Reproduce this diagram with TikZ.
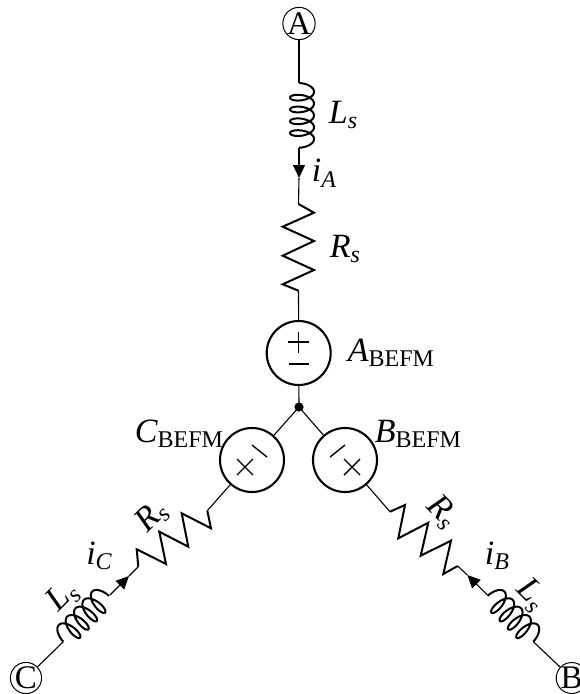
\documentclass[tikz,border=0pt]{standalone}
\usepackage{fontspec}
\setmainfont{Liberation Serif}
\usetikzlibrary{arrows.meta}
\tikzset{
  x=1pt,y=-1pt,
  wire/.style={line width=1.1pt},
  comp/.style={line width=2pt,line join=miter},
  emf/.style={circle,draw,line width=2.1pt,minimum size=64pt,inner sep=0pt},
  term/.style={circle,draw,line width=1pt,minimum size=30pt,inner sep=0pt,font=\fontsize{33}{33}\selectfont},
  flow/.style={wire,-{Triangle[length=13pt,width=12pt]}},
  sign/.style={line width=1.4pt},
  lab/.style={inner sep=0pt,font=\fontsize{34}{34}\selectfont\itshape}
}
\newcommand{\subup}[2]{#1\raisebox{-5.5pt}{\fontsize{24}{24}\selectfont\upshape #2}}
\newcommand{\subit}[2]{#1\raisebox{-5.5pt}{\fontsize{24}{24}\selectfont\itshape #2}}
% \coilpath{start}{rotation}{side}
\newcommand{\coilpath}[3]{%
  \begin{scope}[shift={(#1)},rotate=#2]
    \draw[comp,line join=round,domain=-1.82:26.95,samples=300,variable=\p]
      plot ({(#3)*(3+12*cos(\p r))},{1.88*(\p+1.82)+5.5*(sin(\p r)+0.97)});
  \end{scope}}
\begin{document}
\begin{tikzpicture}
\useasboundingbox (0,0) rectangle (580,694);
% terminals and sources
\node[term] (A) at (299,23.5) {A};
\node[term] (B) at (571.7,678) {B};
\node[term] (C) at (26,678) {C};
\node[emf] (Ae) at (298.7,353) {};
\node[emf] (Be) at (345,460) {};
\node[emf] (Ce) at (252,460) {};
\fill (299,407) circle (4.6);
\coordinate (N) at (299,407);
% leg A
\coordinate (Lat) at (299,83);
\coordinate (Lab) at (299,148);
\coordinate (Tia) at (299,178);
\coordinate (Rat) at (298.5,204);
\coordinate (Rab) at (298.5,290.7);
\draw[wire] (A) -- (Lat);
\coilpath{Lat}{0}{1}
\draw[flow] (Lab) -- (Tia);
\draw[wire] (Tia) -- (Rat);
\draw[comp] (Rat) -- (314,212.7) -- (282.7,226.7) -- (314,241) -- (282.7,255.7) -- (314,270) -- (282.7,284.3) -- (Rab);
\draw[wire] (Rab) -- (Ae);
\draw[wire] (Ae) -- (N);
\draw[sign] (288,342) -- (309,342) (298.7,331.5) -- (298.7,352.5);
\draw[sign] (288.5,364) -- (309,364);
% leg C
\coordinate (Lct) at (63.3,641.7);
\coordinate (Lcb) at (110,595);
\coordinate (Tic) at (129,576);
\coordinate (Rct) at (138.3,566.7);
\coordinate (Rcb) at (207.3,510.7);
\draw[wire] (C) -- (Lct);
\coilpath{Lct}{135}{1}
\draw[flow] (Lcb) -- (Tic);
\draw[wire] (Tic) -- (Rct);
\draw[comp] (Rct) -- (136.7,549.3) -- (166,564) -- (159.3,531.7) -- (188.3,546.7) -- (181.7,513.3) -- (211,528.3) -- (Rcb);
\draw[wire] (Rcb) -- (Ce);
\draw[wire] (Ce) -- (N);
\draw[sign] (237,459) -- (253,475) (253,459) -- (237,475);
\draw[sign] (252,445) -- (267,457);
% leg B
\coordinate (Lbt) at (533.3,641.7);
\coordinate (Lbb) at (487.3,595);
\coordinate (Tib) at (467.3,575);
\coordinate (Rbt) at (457.7,566);
\coordinate (Rbb) at (390,511.7);
\draw[wire] (B) -- (Lbt);
\coilpath{Lbt}{225}{-1}
\draw[flow] (Lbb) -- (Tib);
\draw[wire] (Tib) -- (Rbt);
\draw[comp] (Rbt) -- (443.3,574) -- (451,540.7) -- (420.7,555.7) -- (428.3,522.7) -- (398.3,538.3) -- (405,505) -- (Rbb);
\draw[wire] (Rbb) -- (Be);
\draw[wire] (Be) -- (N);
\draw[sign] (344,459) -- (360,475) (360,459) -- (344,475);
\draw[sign] (330,457) -- (345,445);
% labels
\node[lab] (l1) at (343,115) {\subit{L}{s}};
\node[lab] (l2) at (324,173) {\subit{i}{A}};
\node[lab] (l3) at (345,249) {\subit{R}{s}};
\node[lab] (l4) at (391,353) {\subup{A}{BEFM}};
\node[lab] (l5) at (179,434) {\subup{C}{BEFM}};
\node[lab] (l6) at (418,434) {\subup{B}{BEFM}};
\node[lab] (l7) at (99,556) {\subit{i}{C}};
\node[lab] (l8) at (497,556) {\subit{i}{B}};
\node[lab,rotate=45] (l9) at (63,597) {\subit{L}{s}};
\node[lab,rotate=45] (l10) at (152,517) {\subit{R}{s}};
\node[lab,rotate=-45] (l11) at (442,512) {\subit{R}{s}};
\node[lab,rotate=-45] (l12) at (531,595) {\subit{L}{s}};
\end{tikzpicture}
\end{document}
